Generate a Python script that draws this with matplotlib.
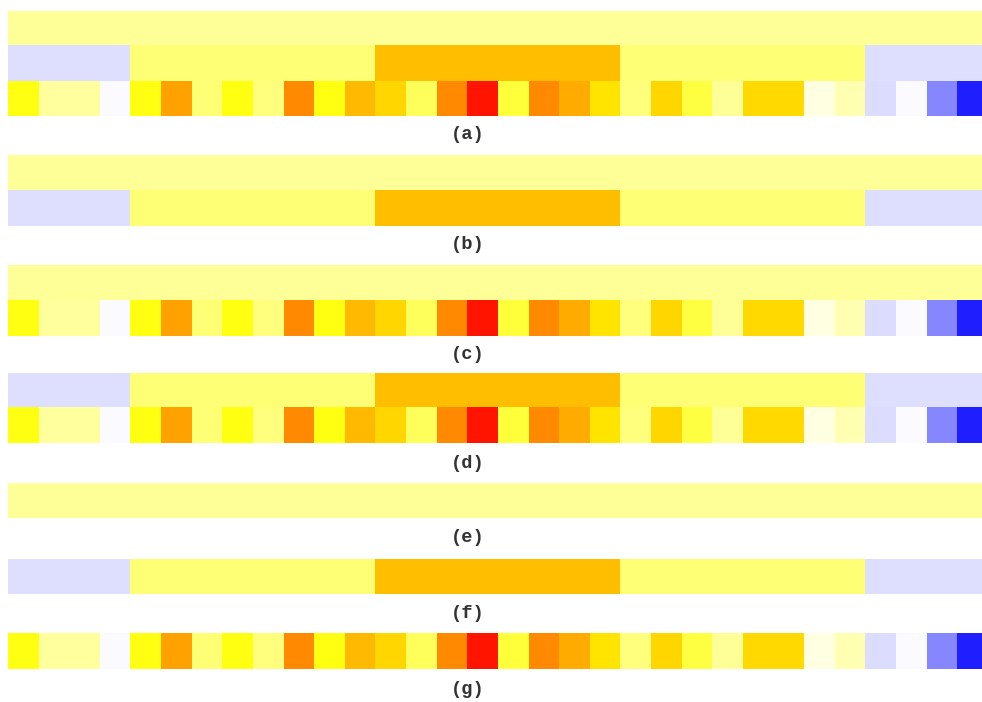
import numpy as np
import matplotlib
matplotlib.use("Agg")
import matplotlib.pyplot as plt
from matplotlib.colors import LinearSegmentedColormap

# level 0: one global value
level0 = [0.124]
# level 1: segment values and their cell boundaries
level1 = [-0.13, 0.16, 0.47, 0.16, -0.13]
level1_edges = [0, 4, 12, 20, 28, 32]
# level 2: 32 individual cells
level2 = [0.276, 0.11, 0.11, -0.02, 0.276, 0.55, 0.16, 0.276,
          0.15, 0.62, 0.276, 0.49, 0.41, 0.19, 0.62, 0.945,
          0.23, 0.62, 0.53, 0.37, 0.15, 0.41, 0.22, 0.12,
          0.40, 0.40, 0.035, 0.088, -0.137, -0.02, -0.47, -0.88]

panels = ["(a)", "(b)", "(c)", "(d)", "(e)", "(f)", "(g)"]
panel_rows = [[0, 1, 2], [0, 1], [0, 2], [1, 2], [0], [1], [2]]

cmap = LinearSegmentedColormap.from_list(
    "wave", [(0.0, (0, 0, 1)), (0.5, (1, 1, 1)), (0.65, (1, 1, 0)), (1.0, (1, 0, 0))])

n = len(level2)
row0 = np.full(n, level0[0])
row1 = np.repeat(level1, np.diff(level1_edges))
row2 = np.array(level2)
rows = [row0, row1, row2]

W, H = 982, 702
fig = plt.figure(figsize=(W / 100, H / 100), dpi=100)

# pixel layout (top, bottom, label centre)
tops = [11, 155.3, 265, 372.7, 482.7, 559, 633.3]
bottoms = [116.3, 226, 336, 443.3, 517.7, 594.3, 668.7]
label_y = [134.5, 244.5, 354.5, 463, 537.5, 614, 689.5]
x0, cw = 8.3, 30.6

for i, name in enumerate(panels):
    ax = fig.add_axes([x0 / W, 1 - bottoms[i] / H, n * cw / W, (bottoms[i] - tops[i]) / H])
    data = np.vstack([rows[r] for r in panel_rows[i]])
    ax.imshow(data, cmap=cmap, vmin=-1, vmax=1, aspect="auto", interpolation="nearest")
    ax.axis("off")
    fig.text(467.5 / W, 1 - label_y[i] / H, name, ha="center", va="center",
             family="Liberation Mono", fontweight="bold", fontsize=13.5, color="#333333")

fig.savefig("out.png", dpi=100)
